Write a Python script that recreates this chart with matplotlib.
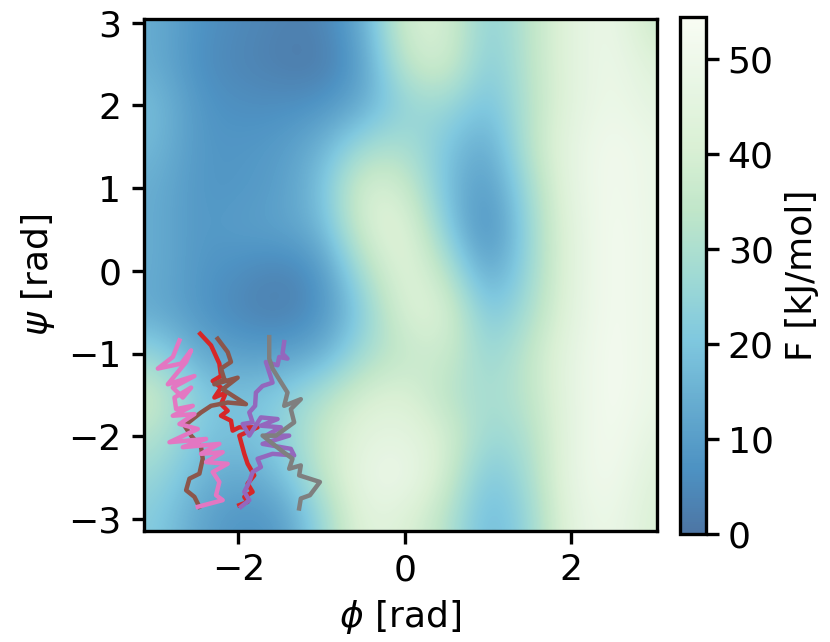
import numpy as np
import matplotlib
matplotlib.use("Agg")
import matplotlib.pyplot as plt

plt.rcParams["font.size"] = 13
plt.rcParams["axes.linewidth"] = 1.2
plt.rcParams["xtick.major.width"] = 1.2
plt.rcParams["ytick.major.width"] = 1.2
plt.rcParams["xtick.major.size"] = 4.5
plt.rcParams["ytick.major.size"] = 4.5

# free energy, rows psi = 3 .. -3, cols phi = -3 .. 3 (step 0.5)
phi_grid = [-3.0, -2.5, -2.0, -1.5, -1.0, -0.5, 0.0, 0.5, 1.0, 1.5, 2.0, 2.5, 3.0]
psi_grid = [3.0, 2.5, 2.0, 1.5, 1.0, 0.5, 0.0, -0.5, -1.0, -1.5, -2.0, -2.5, -3.0]
fes = [
    [14, 7, 5, 3, 3, 13, 40, 40, 22, 33, 45, 50, 35],
    [14, 6, 4, 2, 1, 10, 35, 40, 20, 33, 45, 50, 42],
    [18, 8, 6, 6, 7, 13, 25, 27, 17, 32, 45, 50, 45],
    [17, 8, 8, 9, 15, 28, 30, 20, 11, 33, 47, 52, 48],
    [14, 8, 8, 10, 18, 42, 38, 18, 7, 28, 47, 52, 48],
    [14, 8, 10, 11, 15, 40, 45, 22, 3, 26, 45, 53, 48],
    [14, 8, 6, 3, 7, 30, 45, 33, 9, 26, 45, 53, 48],
    [13, 8, 4, 2, 6, 22, 42, 42, 18, 29, 45, 53, 48],
    [25, 13, 10, 10, 13, 28, 35, 38, 24, 34, 47, 53, 48],
    [38, 22, 18, 22, 30, 40, 42, 32, 28, 33, 47, 53, 48],
    [32, 20, 18, 22, 36, 45, 46, 40, 25, 30, 47, 53, 45],
    [26, 16, 12, 17, 33, 48, 50, 38, 18, 28, 48, 52, 42],
    [22, 12, 7, 8, 25, 45, 42, 32, 15, 25, 46, 50, 40],
]

# trajectories (phi, psi)
traj_red_phi = [-2.46, -2.33, -2.23, -2.21, -2.31, -2.21, -2.29, -2.15, -2.21, -2.13, -2.21, -2.09,
                -2.07, -1.99, -1.77, -1.99, -1.93, -1.89, -1.81, -1.89, -1.83, -1.93, -1.89, -1.99]
traj_red_psi = [-0.76, -0.90, -1.12, -1.27, -1.33, -1.41, -1.53, -1.47, -1.61, -1.69, -1.75, -1.81,
                -1.93, -1.89, -1.89, -1.99, -2.21, -2.33, -2.47, -2.57, -2.67, -2.73, -2.79, -2.83]
traj_purple_phi = [-1.45, -1.47, -1.41, -1.51, -1.53, -1.67, -1.59, -1.71, -1.79, -1.80, -1.87, -1.83,
                   -1.95, -1.87, -1.73, -1.53, -1.73, -1.49, -1.67, -1.39, -1.71, -1.37, -1.33, -1.59,
                   -1.77, -1.73, -1.83, -1.87, -1.93, -1.87, -1.97]
traj_purple_psi = [-0.86, -1.00, -1.06, -1.04, -1.14, -1.10, -1.35, -1.39, -1.47, -1.63, -1.71, -1.83,
                   -1.85, -1.99, -1.77, -1.79, -1.87, -1.89, -1.99, -1.99, -2.09, -2.15, -2.23, -2.21,
                   -2.27, -2.37, -2.43, -2.55, -2.67, -2.77, -2.85]
traj_brown_phi = [-2.25, -2.13, -2.09, -2.21, -2.17, -2.29, -2.01, -2.19, -1.91, -2.13, -2.33, -2.45,
                  -2.55, -2.65, -2.57, -2.45, -2.43, -2.47, -2.59, -2.63, -2.53, -2.47]
traj_brown_psi = [-0.82, -0.98, -1.10, -1.18, -1.31, -1.37, -1.29, -1.43, -1.61, -1.59, -1.63, -1.71,
                  -1.79, -1.87, -1.99, -2.13, -2.27, -2.45, -2.51, -2.65, -2.73, -2.85]
traj_pink_phi = [-2.71, -2.79, -2.97, -2.69, -2.57, -2.63, -2.85, -2.53, -2.79, -2.67, -2.57, -2.77,
                 -2.75, -2.55, -2.79, -2.53, -2.71, -2.49, -2.83, -2.39, -2.67, -2.23, -2.45, -2.19,
                 -2.39, -2.13, -2.31, -2.23, -2.27, -2.19, -2.49]
traj_pink_psi = [-0.84, -1.04, -1.18, -1.12, -0.96, -1.10, -1.37, -1.27, -1.41, -1.53, -1.41, -1.53,
                 -1.67, -1.63, -1.75, -1.73, -1.85, -1.91, -2.07, -2.03, -2.13, -2.09, -2.21, -2.19,
                 -2.31, -2.33, -2.43, -2.55, -2.71, -2.77, -2.85]
traj_gray_phi = [-1.63, -1.63, -1.59, -1.51, -1.41, -1.45, -1.25, -1.37, -1.33, -1.55, -1.71, -1.51,
                 -1.35, -1.39, -1.25, -1.27, -1.02, -1.14, -1.25, -1.27]
traj_gray_psi = [-0.80, -1.06, -1.18, -1.31, -1.47, -1.63, -1.55, -1.67, -1.83, -1.99, -1.99, -2.15,
                 -2.27, -2.39, -2.35, -2.47, -2.55, -2.71, -2.75, -2.87]

fig = plt.figure(figsize=(4.15, 3.21), dpi=200)
ax = fig.add_axes([0.173, 0.173, 0.619, 0.797])
cax = fig.add_axes([0.819, 0.168, 0.031, 0.805])

step = phi_grid[1] - phi_grid[0]
ext = [phi_grid[0] - step / 2, phi_grid[-1] + step / 2,
       psi_grid[-1] - step / 2, psi_grid[0] + step / 2]
im = ax.imshow(np.array(fes, dtype=float), extent=ext, origin="upper", cmap="GnBu_r",
               vmin=0, vmax=54.4, alpha=0.72, interpolation="bicubic", aspect="auto")

lw = 1.6
ax.plot(traj_red_phi, traj_red_psi, color="tab:red", lw=lw)
ax.plot(traj_purple_phi, traj_purple_psi, color="tab:purple", lw=lw)
ax.plot(traj_brown_phi, traj_brown_psi, color="tab:brown", lw=lw)
ax.plot(traj_pink_phi, traj_pink_psi, color="tab:pink", lw=lw)
ax.plot(traj_gray_phi, traj_gray_psi, color="tab:gray", lw=lw)

ax.set_xlim(-np.pi, 3.04)
ax.set_ylim(-np.pi, 3.04)
ax.set_xticks([-2, 0, 2])
ax.set_yticks([-3, -2, -1, 0, 1, 2, 3])
ax.set_xlabel(r"$\phi$ [rad]")
ax.set_ylabel(r"$\psi$ [rad]")

cb = fig.colorbar(im, cax=cax)
cb.set_ticks([0, 10, 20, 30, 40, 50])
cb.set_label("F [kJ/mol]")
cb.outline.set_linewidth(1.2)

fig.savefig("out.png", dpi=200)
